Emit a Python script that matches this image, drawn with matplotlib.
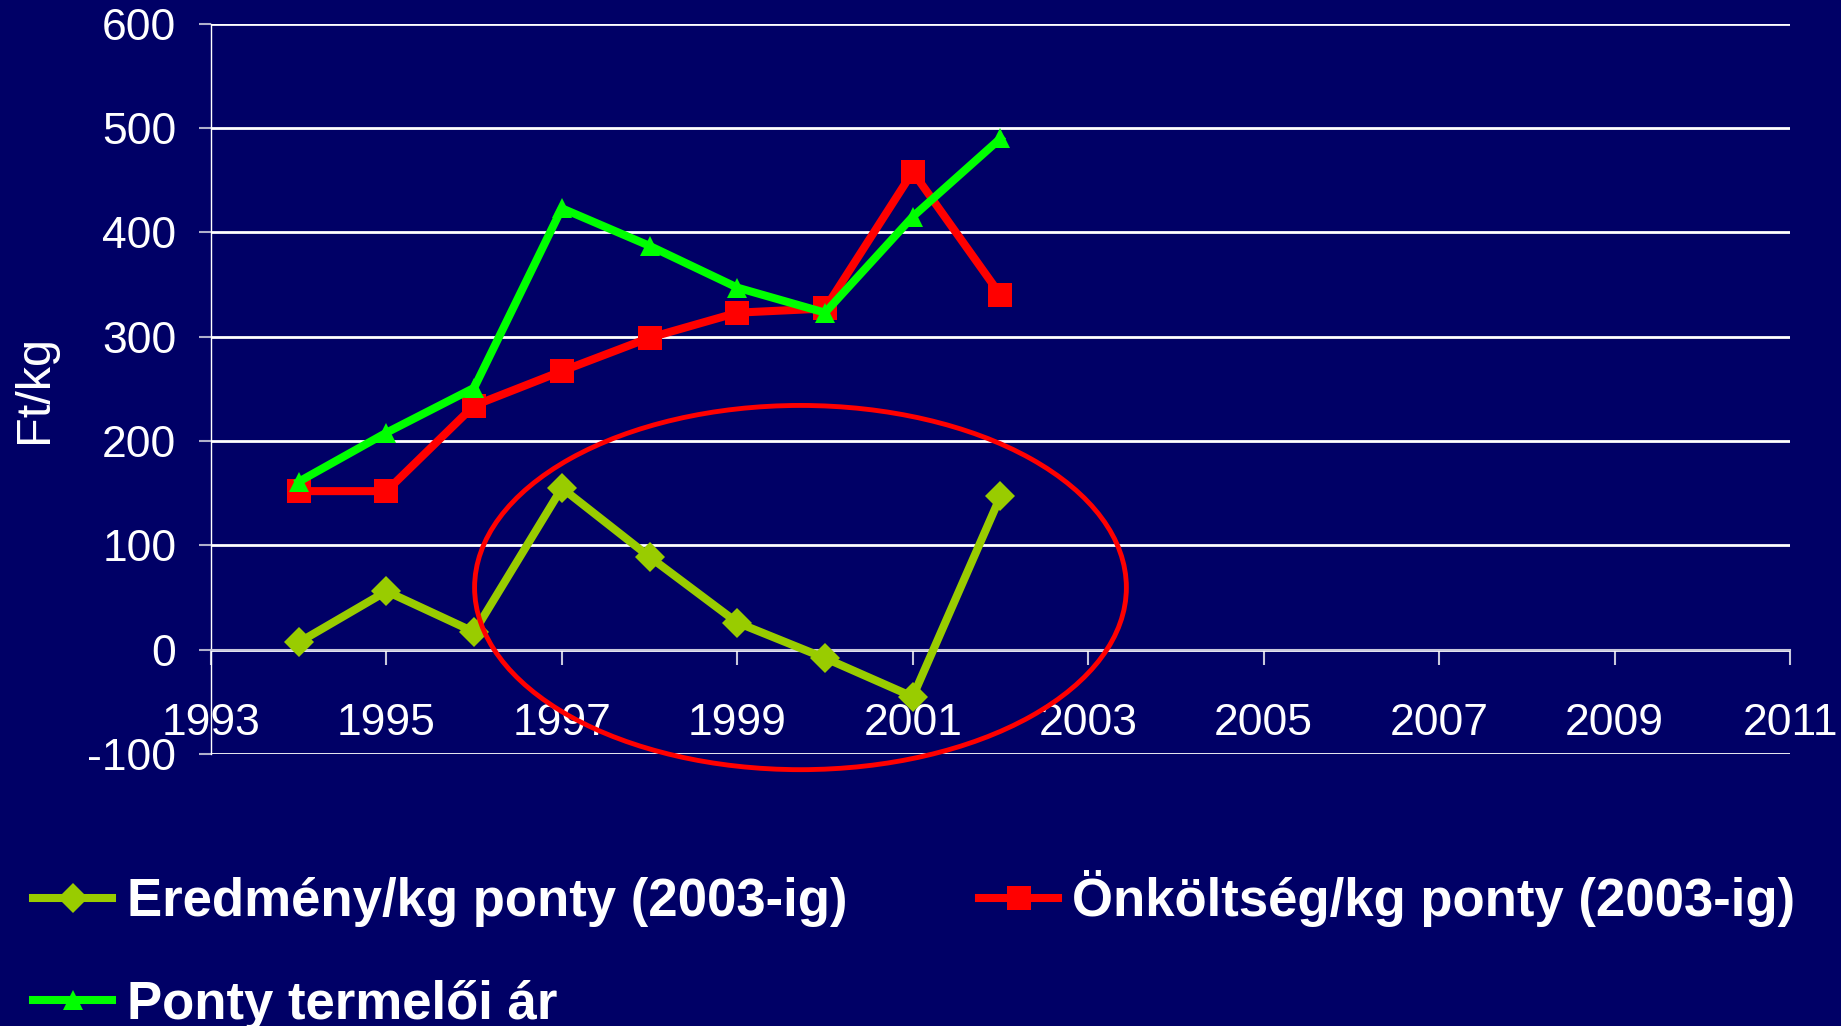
import matplotlib
matplotlib.use('Agg')
import matplotlib.pyplot as plt
from matplotlib.patches import Ellipse
from matplotlib.font_manager import FontProperties

# data
years = [1994, 1995, 1996, 1997, 1998, 1999, 2000, 2001, 2002]
eredmeny = [7, 56, 17, 155, 89, 26, -8, -45, 147]
onkoltseg = [152, 152, 234, 267, 299, 323, 327, 458, 340]
termeloi_ar = [161, 208, 251, 423, 387, 347, 323, 415, 490]

x_ticks = list(range(1993, 2012, 2))
y_ticks = list(range(-100, 601, 100))

labels = ['Eredmény/kg ponty (2003-ig)', 'Önköltség/kg ponty (2003-ig)', 'Ponty termelői ár']

plt.rcParams['font.family'] = ['Liberation Sans', 'DejaVu Sans']
plt.rcParams['axes.unicode_minus'] = False
bg = '#000066'

fig = plt.figure(figsize=(18.41, 10.26), dpi=100, facecolor=bg)
ax = fig.add_axes([0.1146, 0.265, 0.8577, 0.712])
ax.set_facecolor(bg)
ax.set_xlim(1993, 2011)
ax.set_ylim(-100, 600)

for s in ['top', 'right']:
    ax.spines[s].set_visible(False)
ax.spines['bottom'].set_position(('data', 0))
ax.spines['bottom'].set_color('#c8c8dc')
ax.spines['bottom'].set_linewidth(1.5)
ax.spines['left'].set_color('white')
ax.spines['left'].set_linewidth(1)

ax.set_xticks(x_ticks)
ax.set_yticks(y_ticks)
ax.yaxis.grid(True, color='white', lw=2)
ax.set_axisbelow(True)
ax.tick_params(axis='y', direction='out', length=9, width=1.5, color='#b0b0cc',
               labelsize=32, labelcolor='white', pad=16)
ax.tick_params(axis='x', direction='out', length=11, width=1.5, color='#c8c8dc',
               labelsize=32, labelcolor='white', pad=27)
ax.set_ylabel('Ft/kg', color='white', fontsize=35, labelpad=22)

l1, = ax.plot(years, eredmeny, color='#99CC00', lw=5.8, marker='D', ms=15.5, mew=0, label=labels[0], zorder=3)
l2, = ax.plot(years, onkoltseg, color='#FF0000', lw=5.8, marker='s', ms=17.5, mew=0, label=labels[1], zorder=3)
l3, = ax.plot(years, termeloi_ar, color='#00FF00', lw=5.8, marker='^', ms=15, mew=0, label=labels[2], zorder=3)

ell = Ellipse((1999.72, 59.6), 7.43, 349, fill=False, ec='#FF0000', lw=3.5, zorder=5, clip_on=False)
ax.add_patch(ell)

leg = fig.legend([l1, l3, l2], [labels[0], labels[2], labels[1]], ncol=2,
                 loc='upper left', bbox_to_anchor=(0.018, 0.152), frameon=False,
                 prop=FontProperties(family=['Liberation Sans', 'DejaVu Sans'], weight='bold', size=38),
                 labelcolor='white', handlelength=1.5, handletextpad=0.27,
                 columnspacing=2.5, labelspacing=1.0, borderpad=0, borderaxespad=0)

fig.savefig('out.png', dpi=100, facecolor=bg)
